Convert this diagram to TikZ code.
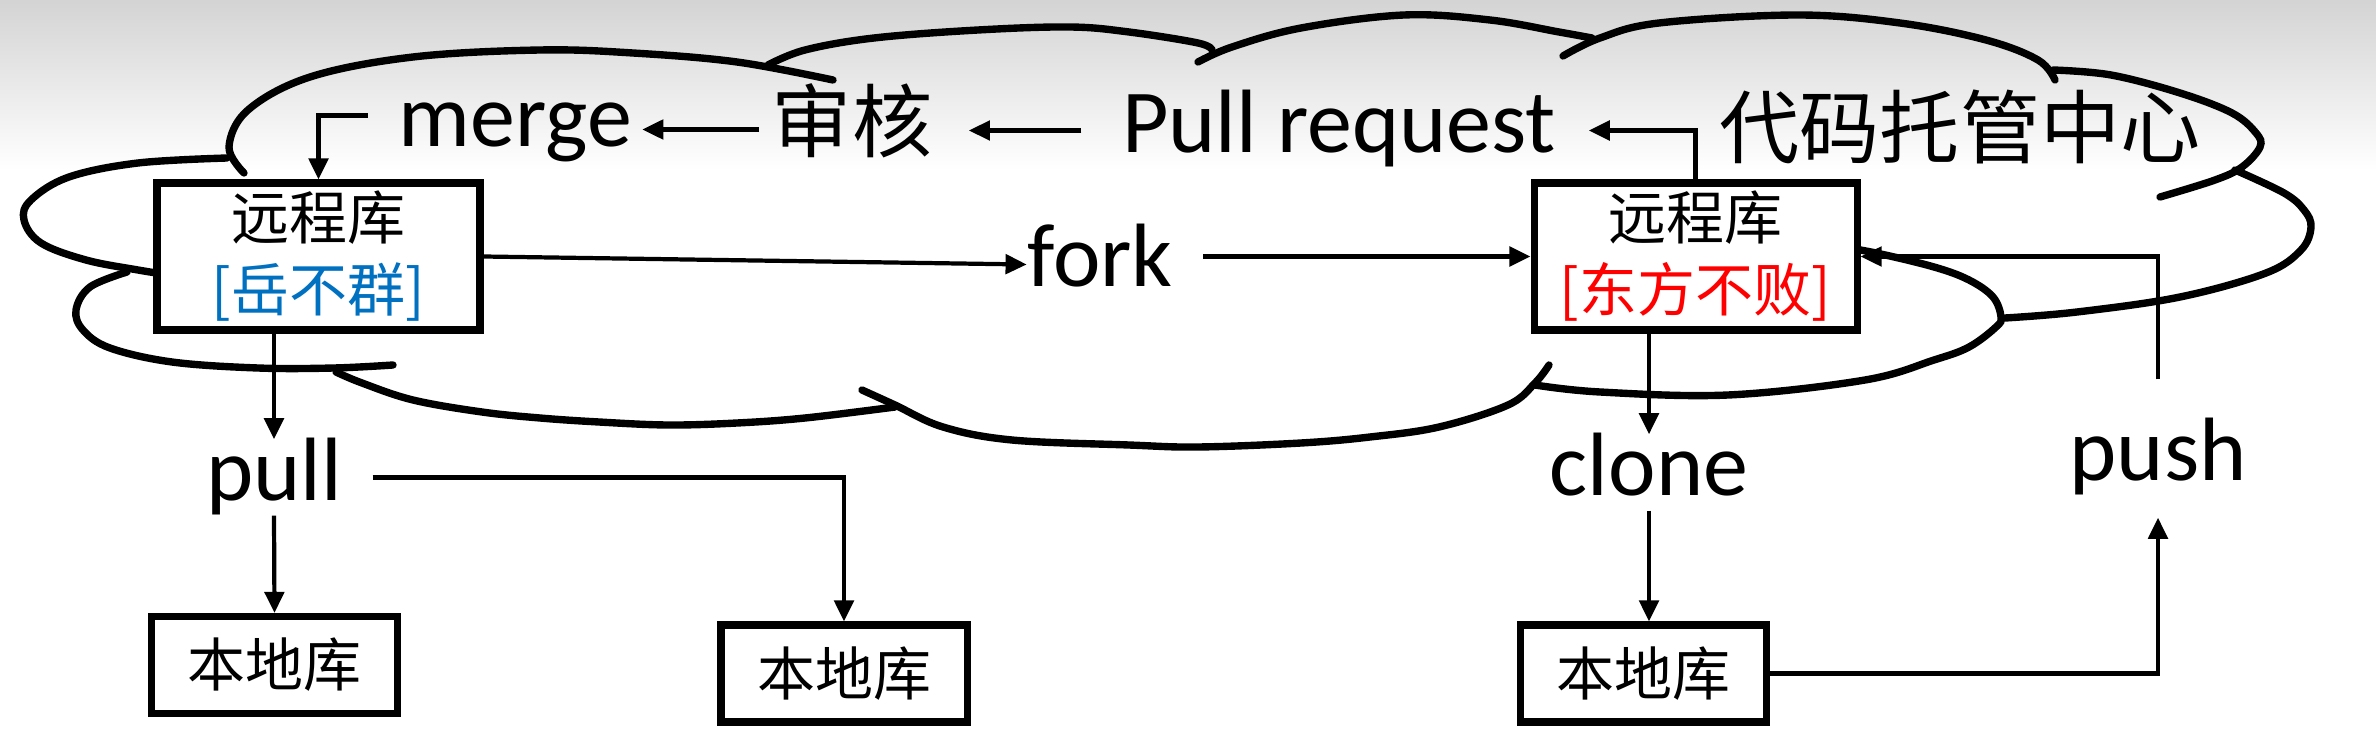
\documentclass[tikz,border=0pt]{standalone}
\usepackage{fontspec}
\setmainfont{Carlito}
\newfontfamily\cjk{Noto Sans CJK SC}
\usetikzlibrary{arrows.meta,calc}
\definecolor{yuenblue}{RGB}{0,112,192}
\definecolor{dongred}{RGB}{255,0,0}

\tikzset{
  repo/.style={draw, line width=2pt, fill=white, inner sep=0pt, align=center,
    minimum width=3.23cm, minimum height=1.47cm, font=\cjk\fontsize{16.5}{20.5}\selectfont},
  localrepo/.style={repo, minimum width=2.46cm, minimum height=0.97cm},
  lbl/.style={inner sep=0pt, text height=0.6cm, text depth=0.15cm, anchor=base,
    font=\fontsize{25.6}{28}\selectfont},
  cjklbl/.style={lbl, font=\cjk\fontsize{22.8}{26}\selectfont},
  arr/.style={-{Triangle[length=6pt,width=5.5pt]}, line width=1.2pt},
  cloudline/.style={line width=2.1pt, line cap=round},
}

\begin{document}
\begin{tikzpicture}
  \fill[white] (0,0) rectangle (23.76,7.30);
  \shade[top color=black!17, bottom color=white] (0,5.6) rectangle (23.76,7.30);
  \useasboundingbox (0,0) rectangle (23.76,7.30);

  % Cloud
  \draw[cloudline] plot[smooth, tension=0.6] coordinates {(2.44,5.57) (2.29,5.83) (2.48,6.20) (3.10,6.53) (4.13,6.73) (5.40,6.80) (6.33,6.77) (7.37,6.68) (8.33,6.50)};
  \draw[cloudline] plot[smooth, tension=0.6] coordinates {(7.68,6.65) (8.05,6.80) (8.74,6.92) (9.78,7.00) (10.70,7.03) (11.29,6.98) (11.98,6.87) (12.12,6.80)};
  \draw[cloudline] plot[smooth, tension=0.6] coordinates {(11.98,6.68) (12.32,6.83) (13.01,7.02) (14.04,7.15) (14.90,7.10) (15.59,6.98) (15.92,6.92)};
  \draw[cloudline] plot[smooth, tension=0.6] coordinates {(15.63,6.74) (16.00,6.92) (16.59,7.07) (17.97,7.15) (19.00,7.07) (19.86,6.90) (20.38,6.70) (20.55,6.50)};
  \draw[cloudline] plot[smooth, tension=0.6] coordinates {(20.53,6.60) (21.11,6.55) (21.80,6.37) (22.32,6.17) (22.56,5.97) (22.60,5.83) (22.42,5.63) (22.15,5.50) (21.60,5.33)};
  \draw[cloudline] plot[smooth, tension=0.6] coordinates {(22.35,5.60) (22.84,5.37) (23.04,5.20) (23.11,5.03) (23.01,4.80) (22.66,4.57) (21.80,4.33) (20.77,4.18) (20.05,4.12)};
  \draw[cloudline] plot[smooth, tension=0.6] coordinates {(15.35,3.45) (16.00,3.38) (17.28,3.35) (18.65,3.50) (19.34,3.70) (19.69,3.83) (19.96,4.03) (20.01,4.13) (19.93,4.33) (19.69,4.50) (19.34,4.63) (18.76,4.77) (18.30,4.85)};
  \draw[cloudline] plot[smooth, tension=0.6] coordinates {(8.62,3.40) (8.95,3.25) (9.43,3.03) (10.12,2.90) (11.29,2.85) (11.98,2.83) (13.01,2.87) (13.70,2.93) (14.39,3.03) (15.08,3.25) (15.35,3.47) (15.49,3.65)};
  \draw[cloudline] plot[smooth, tension=0.6] coordinates {(3.36,3.58) (3.62,3.47) (4.13,3.30) (4.82,3.18) (5.40,3.12) (5.99,3.08) (6.68,3.05) (7.37,3.07) (8.05,3.12) (8.95,3.23)};
  \draw[cloudline] plot[smooth, tension=0.6] coordinates {(1.27,4.58) (0.90,4.43) (0.76,4.20) (0.83,4.00) (1.10,3.82) (1.72,3.68) (2.58,3.62) (3.34,3.62) (3.93,3.65)};
  \draw[cloudline] plot[smooth, tension=0.6] coordinates {(2.27,5.72) (1.38,5.67) (0.69,5.53) (0.31,5.30) (0.24,5.10) (0.41,4.87) (0.86,4.70) (1.38,4.60) (1.70,4.55)};

  % Repositories
  \node[repo] (lrem) at (3.185,4.735) {远程库\\\textcolor{yuenblue}{[岳不群]}};
  \node[repo] (rrem) at (16.955,4.735) {远程库\\\textcolor{dongred}{[东方不败]}};
  \node[localrepo] (loc1) at (2.745,0.65) {本地库};
  \node[localrepo] (loc2) at (8.44,0.565) {本地库};
  \node[localrepo] (loc3) at (16.435,0.565) {本地库};

  % Labels
  \node[lbl] (merge) at (5.15,5.83) {merge};
  \node[cjklbl] (audit) at (8.52,5.78) {审核};
  \node[lbl] (preq) at (13.39,5.77) {Pull request};
  \node[cjklbl] (hub) at (19.60,5.72) {代码托管中心};
  \node[lbl] (fork) at (11.00,4.43) {fork};
  \node[lbl] (pull) at (2.74,2.30) {pull};
  \node[lbl] (clone) at (16.49,2.35) {clone};
  \node[lbl] (push) at (21.58,2.50) {push};

  % Arrows
  \draw[arr, shorten <=1.2mm, shorten >=1mm] (audit.west) -- (audit.west -| merge.east);
  \draw[arr, shorten <=4mm, shorten >=3.6mm] (preq.west) -- (preq.west -| audit.east);
  \draw[arr, shorten >=3.2mm] (rrem.north) |- (preq.east);
  \draw[arr, shorten <=3mm] ([yshift=0.9mm]merge.west) -| (lrem.north);
  \draw[arr] (lrem.east) -- (fork.west);
  \draw[arr, shorten <=3mm] (fork.east |- rrem.west) -- (rrem.west);
  \draw[arr] (pull.north |- lrem.south) -- (pull.north);
  \draw[arr] (pull.south) -- (loc1.north);
  \draw[arr, shorten <=3mm] (pull.east) -| (loc2.north);
  \draw[arr] (clone.north |- rrem.south) -- (clone.north);
  \draw[arr] (clone.south) -- (clone.south |- loc3.north);
  \draw[arr, shorten >=2.2mm] (loc3.east) -| (push.south);
  \draw[arr] ([yshift=4mm]push.north) |- (rrem.east);
\end{tikzpicture}
\end{document}
